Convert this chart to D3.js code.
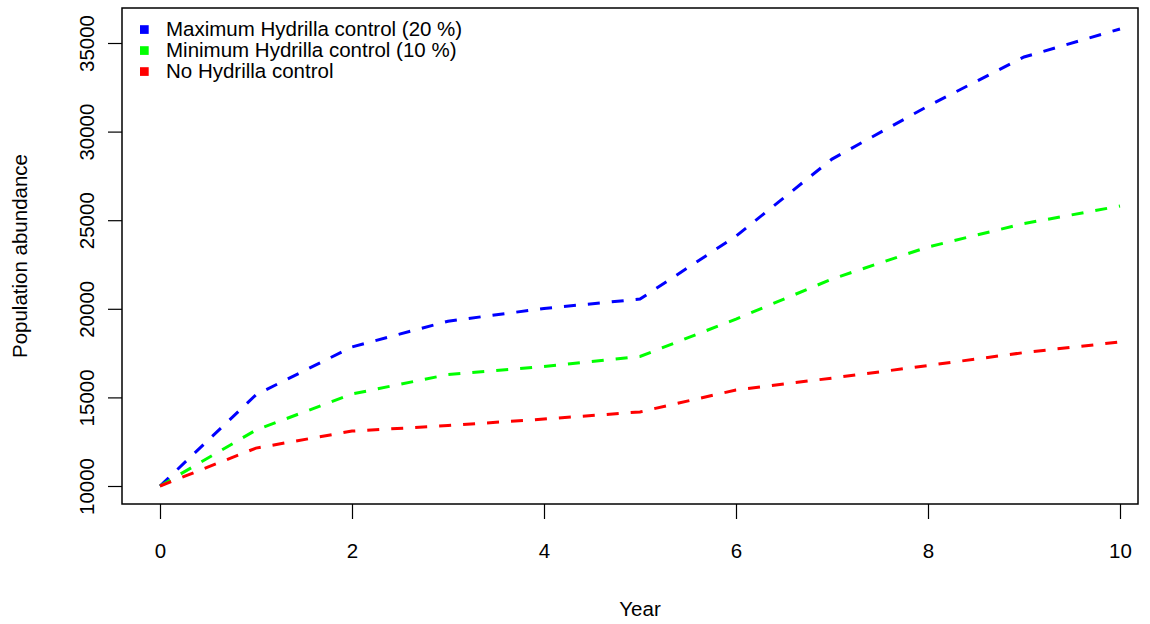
<!DOCTYPE html>
<html>
<head>
<meta charset="utf-8">
<script src="https://cdn.jsdelivr.net/npm/d3@7"></script>
<style>
  html, body { margin: 0; padding: 0; background: #fff; }
  svg { display: block; font-family: "Liberation Sans", Arial, Helvetica, sans-serif; }
</style>
</head>
<body>
<svg id="chart" width="1150" height="624"></svg>
<script>
const years = [0, 1, 2, 3, 4, 5, 6, 7, 8, 9, 10];
const maxControl = [10000, 15150, 17850, 19300, 20020, 20550, 24100, 28450, 31440, 34210, 35790];
const minControl = [10000, 13160, 15190, 16290, 16740, 17310, 19420, 21680, 23490, 24810, 25800];
const noControl  = [10000, 12140, 13100, 13410, 13780, 14180, 15420, 16090, 16800, 17530, 18130];
const seriesNames = ["Maximum Hydrilla control (20 %)", "Minimum Hydrilla control (10 %)", "No Hydrilla control"];
const seriesColors = ["#0000ff", "#00ff00", "#ff0000"];
const xTicks = [0, 2, 4, 6, 8, 10];
const yTicks = [10000, 15000, 20000, 25000, 30000, 35000];
const xLabel = "Year";
const yLabel = "Population abundance";

const svg = d3.select("#chart");
const box = {left: 122, right: 1138, top: 8, bottom: 504};

// scales: 0 -> 160px, 10 -> 1120px ; 10000 -> 486px, 35000 -> 43px
const x = d3.scaleLinear().domain([0, 10]).range([160, 1120]);
const y = d3.scaleLinear().domain([10000, 35000]).range([486, 43]);

const fontSize = 20.5;

// lines
const series = [maxControl, minControl, noControl];
const line = d3.line().x((d, i) => x(years[i])).y(d => y(d));
series.forEach((vals, k) => {
  svg.append("path")
    .datum(vals)
    .attr("d", line)
    .attr("fill", "none")
    .attr("stroke", seriesColors[k])
    .attr("stroke-width", 3)
    .attr("stroke-dasharray", "12,12")
    .attr("stroke-linecap", "butt");
});

// box
svg.append("rect")
  .attr("x", box.left).attr("y", box.top)
  .attr("width", box.right - box.left).attr("height", box.bottom - box.top)
  .attr("fill", "none").attr("stroke", "#000").attr("stroke-width", 1.5);

// x axis
const xAxis = d3.axisBottom(x).tickValues(xTicks).tickSize(15).tickPadding(24).tickFormat(d3.format("d"));
const gx = svg.append("g").attr("transform", `translate(0,${box.bottom})`).call(xAxis);
gx.select(".domain").remove();
gx.selectAll(".tick line").attr("stroke", "#000").attr("stroke-width", 1.2);
gx.selectAll(".tick text").attr("font-size", fontSize).attr("fill", "#000")
  .attr("font-family", "Liberation Sans, Arial, sans-serif");

// y axis
const yAxis = d3.axisLeft(y).tickValues(yTicks).tickSize(14).tickPadding(0).tickFormat(d3.format("d"));
const gy = svg.append("g").attr("transform", `translate(${box.left},0)`).call(yAxis);
gy.select(".domain").remove();
gy.selectAll(".tick line").attr("stroke", "#000").attr("stroke-width", 1.2);
gy.selectAll(".tick text")
  .attr("font-size", fontSize).attr("fill", "#000")
  .attr("font-family", "Liberation Sans, Arial, sans-serif")
  .attr("x", null).attr("dy", null)
  .attr("text-anchor", "middle")
  .attr("transform", "translate(-28,0) rotate(-90)");

// axis titles
svg.append("text")
  .attr("x", 640).attr("y", 616)
  .attr("text-anchor", "middle").attr("font-size", fontSize).attr("fill", "#000")
  .text(xLabel);
svg.append("text")
  .attr("transform", `translate(27,${(box.top + box.bottom) / 2}) rotate(-90)`)
  .attr("text-anchor", "middle").attr("font-size", fontSize).attr("fill", "#000")
  .text(yLabel);

// legend
const legend = svg.append("g");
seriesNames.forEach((name, k) => {
  const cy = 29.5 + k * 21;
  legend.append("rect")
    .attr("x", 140).attr("y", cy - 4.3).attr("width", 8.7).attr("height", 8.7)
    .attr("fill", seriesColors[k]);
  legend.append("text")
    .attr("x", 166).attr("y", cy + 6.8)
    .attr("font-size", fontSize).attr("fill", "#000")
    .text(name);
});
</script>
</body>
</html>
